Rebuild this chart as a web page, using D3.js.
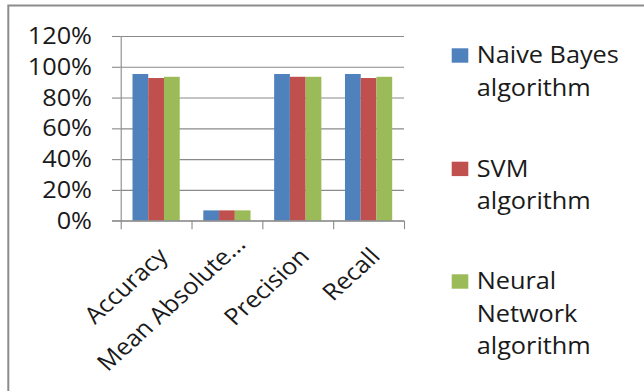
<!DOCTYPE html>
<html>
<head>
<meta charset="utf-8">
<script src="https://cdn.jsdelivr.net/npm/d3@7"></script>
<style>
  html, body { margin: 0; padding: 0; background: #fff; }
  svg { display: block; }
  text { font-family: "Open Sans", "Noto Sans", sans-serif; fill: #1a1a1a; }
</style>
</head>
<body>
<svg id="chart" width="644" height="391"></svg>
<script>
// Evaluation metrics per classifier
const categories = ["Accuracy", "Mean Absolute...", "Precision", "Recall"];
const seriesNames = ["Naive Bayes algorithm", "SVM algorithm", "Neural Network algorithm"];
const naiveBayes = [0.953, 0.067, 0.953, 0.953];
const svm        = [0.927, 0.067, 0.935, 0.927];
const neuralNet  = [0.935, 0.067, 0.935, 0.935];
const yTicks = [0, 0.2, 0.4, 0.6, 0.8, 1.0, 1.2];
const legendLines = [["Naive Bayes", "algorithm"], ["SVM", "algorithm"], ["Neural", "Network", "algorithm"]];

const colors = ["#4F81BD", "#C0504D", "#9BBB59"];
const series = [naiveBayes, svm, neuralNet];

const svg = d3.select("#chart");
const FONT = 23, SX = 1.1;          // text is drawn slightly wide
const plotLeft = 120.7, plotRight = 404, plotTop = 36, plotBottom = 220.7;

// outer frame
svg.append("rect")
  .attr("x", 8.3).attr("y", 5.5).attr("width", 800).attr("height", 600)
  .attr("fill", "none").attr("stroke", "#8c8c8c").attr("stroke-width", 2);

const y = d3.scaleLinear().domain([0, 1.2]).range([plotBottom, plotTop]);
const x = d3.scaleBand().domain(categories).range([plotLeft, plotRight]).padding(0);
const bw = x.bandwidth() / (seriesNames.length + 1.5);
const xInner = d3.scaleBand().domain(d3.range(seriesNames.length))
  .range([0.75 * bw, 0.75 * bw + bw * seriesNames.length]);

// gridlines
const grid = svg.append("g").attr("transform", `translate(${plotLeft},0)`)
  .call(d3.axisLeft(y).tickValues(yTicks).tickSize(-(plotRight - plotLeft)).tickFormat(""));
grid.select(".domain").remove();
grid.selectAll("line").attr("stroke", "#8a8a8a").attr("stroke-width", 1.1);

// y-axis with small outside ticks
const ya = svg.append("g").attr("transform", `translate(${plotLeft},0)`)
  .call(d3.axisLeft(y).tickValues(yTicks).tickSize(8.7).tickSizeOuter(0).tickFormat(""));
ya.select(".domain").attr("stroke", "#8a8a8a").attr("stroke-width", 1.1);
ya.selectAll("line").attr("stroke", "#8a8a8a").attr("stroke-width", 1.1);

// y tick labels
svg.append("g").selectAll("text").data(yTicks).join("text")
  .attr("transform", d => `translate(92,${y(d) + 8}) scale(${SX},1)`)
  .attr("text-anchor", "end")
  .attr("font-size", FONT)
  .text(d => d3.format(".0%")(d));

// bars
const groups = svg.append("g").selectAll("g").data(categories).join("g")
  .attr("transform", c => `translate(${x(c)},0)`);
groups.selectAll("rect")
  .data((c, i) => series.map((s, k) => ({ k, v: s[i] })))
  .join("rect")
  .attr("x", d => xInner(d.k))
  .attr("width", xInner.bandwidth())
  .attr("y", d => y(d.v))
  .attr("height", d => y(0) - y(d.v))
  .attr("fill", d => colors[d.k]);

// x-axis with tick marks between categories
const xEdge = d3.scaleLinear().domain([0, categories.length]).range([plotLeft, plotRight]);
const xa = svg.append("g").attr("transform", `translate(0,${plotBottom})`)
  .call(d3.axisBottom(xEdge).tickValues(d3.range(categories.length + 1)).tickSize(8.5).tickSizeOuter(0).tickFormat(""));
xa.selectAll("line").attr("stroke", "#8a8a8a").attr("stroke-width", 1.1);
xa.select(".domain").attr("stroke", "#8a8a8a").attr("stroke-width", 1.1)
  .attr("d", `M112,0H${plotRight}`);

// rotated category labels (truncated label sits further along its run)
svg.append("g").selectAll("text").data(categories).join("text")
  .attr("transform", c => {
    const cx = x(c) + x.bandwidth() / 2;
    const trunc = c.endsWith("...");
    const dx = trunc ? 20 : 13, dy = trunc ? 25 : 37;
    return `translate(${cx + dx},${plotBottom + dy}) scale(${SX},1) rotate(-45)`;
  })
  .attr("text-anchor", "end")
  .attr("font-size", FONT)
  .text(c => c);

// legend
const legendTop = [63.3, 176.7, 289.3];
const lg = svg.append("g").selectAll("g").data(seriesNames).join("g");
lg.append("rect")
  .attr("x", 451.7).attr("y", (d, i) => legendTop[i] - 15)
  .attr("width", 16.6).attr("height", 14.4)
  .attr("fill", (d, i) => colors[i]);
lg.each(function (d, i) {
  d3.select(this).selectAll("text").data(legendLines[i]).join("text")
    .attr("transform", (t, j) => `translate(476.7,${legendTop[i] + j * 32.3}) scale(${SX},1)`)
    .attr("font-size", FONT)
    .text(t => t);
});
</script>
</body>
</html>
